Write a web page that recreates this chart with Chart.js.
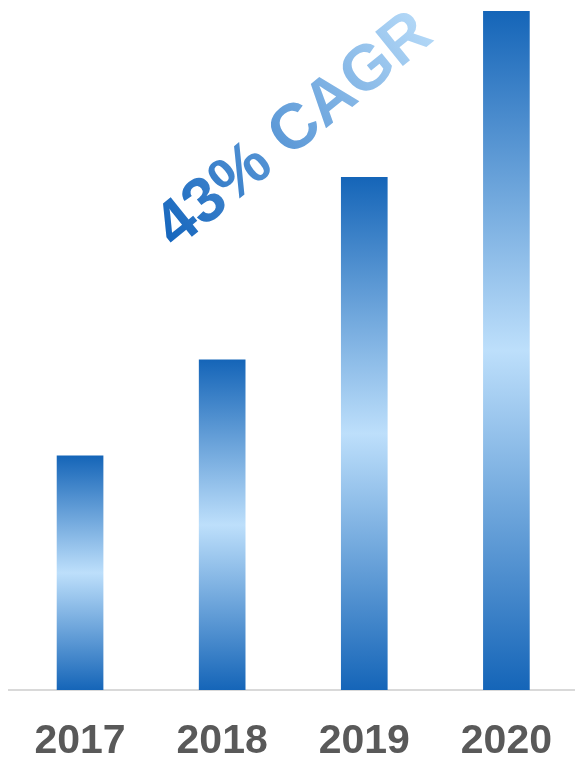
<!DOCTYPE html>
<html>
<head>
<meta charset="utf-8">
<script src="https://cdn.jsdelivr.net/npm/chart.js@4.4.0/dist/chart.umd.min.js"></script>
<style>
    html, body { margin: 0; padding: 0; background: #ffffff; overflow: hidden; }
    #wrap { width: 579px; height: 760px; }
</style>
</head>
<body>
<div id="wrap"><canvas id="barChart"></canvas></div>
<script>
var years = ['2017', '2018', '2019', '2020'];
var revenue = [1.0, 1.41, 2.19, 2.9];
var cagrLabel = '43% CAGR';

var darkBlue = '#1565b8';
var lightBlue = '#bddffb';

// vertical gradient per bar: dark at both ends, light in the middle
function barGradient(context) {
    var chart = context.chart;
    if (!chart.chartArea || context.dataIndex === undefined) {
        return darkBlue;
    }
    var yScale = chart.scales.y;
    var top = yScale.getPixelForValue(revenue[context.dataIndex]);
    var bottom = yScale.getPixelForValue(0);
    var grad = chart.ctx.createLinearGradient(0, top, 0, bottom);
    grad.addColorStop(0, darkBlue);
    grad.addColorStop(0.5, lightBlue);
    grad.addColorStop(1, darkBlue);
    return grad;
}

var cagrText = {
    id: 'cagrText',
    afterDatasetsDraw: function (chart) {
        var ctx = chart.ctx;
        ctx.save();
        ctx.font = 'bold 64px "Liberation Sans", Arial, sans-serif';
        var w = ctx.measureText(cagrLabel).width;
        ctx.translate(291, 127);
        ctx.rotate(-39 * Math.PI / 180);
        var grad = ctx.createLinearGradient(-w / 2, 0, w / 2, 0);
        grad.addColorStop(0, '#1666bd');
        grad.addColorStop(1, '#b3d8f7');
        ctx.fillStyle = grad;
        ctx.textAlign = 'center';
        ctx.textBaseline = 'alphabetic';
        ctx.fillText(cagrLabel, 0, 23);
        ctx.restore();
    }
};

var ctx = document.getElementById('barChart').getContext('2d');
var myChart = new Chart(ctx, {
    type: 'bar',
    data: {
        labels: years,
        datasets: [{
            data: revenue,
            backgroundColor: barGradient,
            barThickness: 46,
            borderWidth: 0
        }]
    },
    options: {
        responsive: true,
        maintainAspectRatio: false,
        animation: false,
        layout: {
            padding: { top: 11, left: 9, right: 0, bottom: 0 }
        },
        plugins: {
            legend: { display: false },
            tooltip: { enabled: false }
        },
        scales: {
            x: {
                afterFit: function (scale) { scale.height = 70; },
                grid: { display: false, drawTicks: false },
                border: { display: true, color: '#d9d9d9', width: 2 },
                ticks: {
                    color: '#595959',
                    padding: 27,
                    font: { family: '"Liberation Sans", Arial, sans-serif', size: 41, weight: 'bold' }
                }
            },
            y: {
                display: false,
                min: 0,
                max: 2.9
            }
        }
    },
    plugins: [cagrText]
});
</script>
</body>
</html>
